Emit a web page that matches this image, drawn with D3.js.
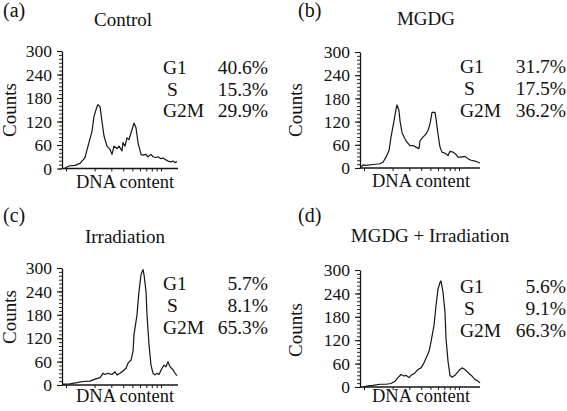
<!DOCTYPE html>
<html>
<head>
<meta charset="utf-8">
<script src="https://cdn.jsdelivr.net/npm/d3@7"></script>
<style>
  html, body { margin: 0; padding: 0; background: #fff; }
  svg { display: block; }
  svg text { font-family: "Liberation Serif", Tinos, "Times New Roman", Times, "Nimbus Roman", "DejaVu Serif", "Noto Serif", serif !important; fill: #111; }
</style>
</head>
<body>
<svg id="chart" width="567" height="411"></svg>
<script>
// ---------------- DATA ----------------
const panelLetters = ["(a)", "(b)", "(c)", "(d)"];
const panelTitles = ["Control", "MGDG", "Irradiation", "MGDG + Irradiation"];
const phaseNames = ["G1", "S", "G2M"];
const phasePercent = [
  [40.6, 15.3, 29.9],
  [31.7, 17.5, 36.2],
  [5.7, 8.1, 65.3],
  [5.6, 9.1, 66.3]
];
const yTickValues = [0, 60, 120, 180, 240, 300];
const xDecadeTicks = [1, 2, 3, 4, 5, 6, 7, 8, 9, 10];
const yLabel = "Counts";
const xLabel = "DNA content";

// histogram traces: channel (DNA content) and counts
const controlChannel = [3, 8, 13, 18, 23, 26, 30, 32, 35, 36, 38, 40, 42, 45, 48, 50, 52, 55, 57, 60, 61, 63, 65, 67, 70, 72, 74, 76, 79, 81, 84, 86, 89, 91, 94, 96, 99, 101, 104, 106, 109, 111, 113, 115];
const controlCounts  = [2, 7, 8, 13, 28, 57, 95, 133, 158, 163, 158, 120, 83, 57, 49, 36, 57, 51, 57, 45, 66, 57, 78, 74, 99, 116, 104, 66, 36, 34, 36, 30, 36, 30, 28, 30, 25, 27, 22, 19, 17, 19, 15, 18];

const mgdgChannel = [1, 3, 6, 13, 20, 23, 26, 29, 31, 34, 36, 37, 39, 40, 42, 45, 47, 50, 53, 56, 59, 60, 63, 66, 68, 70, 72, 75, 76, 78, 80, 82, 86, 88, 90, 93, 96, 98, 101, 105, 108, 111, 115, 118, 120];
const mgdgCounts  = [2, 8, 7, 9, 11, 15, 28, 45, 80, 122, 152, 163, 148, 122, 92, 75, 67, 58, 58, 54, 50, 71, 80, 88, 97, 114, 144, 144, 127, 88, 54, 41, 37, 32, 43, 41, 35, 28, 28, 30, 24, 20, 18, 15, 13];

const irrChannel = [1, 8, 15, 21, 28, 33, 38, 41, 43, 46, 50, 53, 55, 58, 61, 64, 66, 69, 71, 72, 75, 77, 79, 81, 82, 84, 85, 87, 89, 91, 93, 95, 97, 100, 102, 104, 106, 108, 111, 113, 115];
const irrCounts  = [2, 3, 6, 9, 10, 15, 19, 30, 27, 30, 27, 34, 26, 30, 36, 43, 56, 64, 86, 129, 180, 240, 283, 296, 283, 240, 180, 103, 51, 30, 26, 30, 27, 43, 51, 47, 60, 47, 39, 30, 24];

const mgdgIrrChannel = [3, 8, 13, 20, 26, 31, 35, 38, 41, 44, 46, 49, 51, 55, 58, 61, 64, 66, 69, 71, 74, 76, 78, 80, 81, 83, 85, 86, 88, 90, 92, 95, 97, 100, 102, 105, 107, 110, 112, 115, 117, 120];
const mgdgIrrCounts  = [0, 3, 4, 7, 7, 9, 15, 24, 32, 28, 30, 24, 30, 36, 45, 49, 62, 74, 91, 116, 158, 209, 251, 268, 272, 243, 192, 125, 66, 30, 25, 30, 36, 45, 49, 45, 40, 32, 28, 19, 17, 11];

const channels = [controlChannel, mgdgChannel, irrChannel, mgdgIrrChannel];
const counts = [controlCounts, mgdgCounts, irrCounts, mgdgIrrCounts];

// ---------------- LAYOUT ----------------
const layout = [
  { axisX: 62,  y0: 168.5, yTop: 51,  xEnd: 116, letter: [3, 17],    title: [123, 26],  ylab: [16, 110],  xlab: [125, 188], statX: 163, valX: 268, statY: [74, 96, 117] },
  { axisX: 360, y0: 168,   yTop: 52,  xEnd: 120, letter: [298, 17],  title: [426, 25],  ylab: [302, 110], xlab: [421, 187], statX: 460, valX: 566, statY: [73, 95, 117] },
  { axisX: 62,  y0: 385,   yTop: 268, xEnd: 116, letter: [3, 222],   title: [125, 243], ylab: [16, 317],  xlab: [125, 402], statX: 163, valX: 268, statY: [290, 312, 334] },
  { axisX: 360, y0: 387,   yTop: 270, xEnd: 120, letter: [298, 222], title: [430, 242], ylab: [302, 330], xlab: [421, 402], statX: 460, valX: 566, statY: [293, 315, 337] }
];

const svg = d3.select("#chart");
const ink = "#151515";
const fmt = d3.format(".1f");

layout.forEach((L, i) => {
  const g = svg.append("g");
  const x = d3.scaleLinear().domain([0, 120]).range([L.axisX, L.axisX + 120]);
  const y = d3.scaleLinear().domain([0, 300]).range([L.y0, L.yTop]);

  g.append("text").attr("x", L.letter[0]).attr("y", L.letter[1])
    .style("font-size", "20px").text(panelLetters[i]);
  g.append("text").attr("x", L.title[0]).attr("y", L.title[1])
    .attr("text-anchor", "middle").style("font-size", "19px").text(panelTitles[i]);

  const minor = d3.axisLeft(y).tickValues(d3.range(0, 301, 10)).tickSize(3).tickSizeOuter(0).tickFormat("");
  const gm = g.append("g").attr("transform", `translate(${L.axisX},0)`).call(minor);
  gm.select(".domain").attr("stroke", ink).attr("stroke-width", 1.3);
  gm.selectAll(".tick line").attr("stroke", ink).attr("stroke-width", 0.9);

  const major = d3.axisLeft(y).tickValues(yTickValues).tickSize(5).tickPadding(5).tickSizeOuter(0);
  const gy = g.append("g").attr("transform", `translate(${L.axisX},0)`).call(major);
  gy.attr("font-family", null).attr("font-size", null);
  gy.select(".domain").remove();
  gy.selectAll(".tick line").attr("stroke", ink).attr("stroke-width", 1.1);
  gy.selectAll(".tick text").attr("fill", "#111").style("font-size", "17.5px");

  g.append("line").attr("x1", x(0)).attr("x2", x(L.xEnd)).attr("y1", y(0)).attr("y2", y(0))
    .attr("stroke", ink).attr("stroke-width", 1.3);
  const xl = d3.scaleLog().domain([1, 10]).range([x(4), x(99)]);
  const gx = g.append("g").attr("transform", `translate(0,${y(0)})`)
    .call(d3.axisBottom(xl).tickValues(xDecadeTicks).tickSize(3).tickSizeOuter(0).tickFormat(""));
  gx.select(".domain").remove();
  gx.selectAll(".tick line").attr("stroke", ink).attr("stroke-width", 1);

  g.append("text").attr("transform", `translate(${L.ylab[0]},${L.ylab[1]}) rotate(-90)`)
    .attr("text-anchor", "middle").style("font-size", "19px").text(yLabel);
  g.append("text").attr("x", L.xlab[0]).attr("y", L.xlab[1])
    .attr("text-anchor", "middle").style("font-size", "18.5px").text(xLabel);

  const pts = channels[i].map((c, k) => [c, counts[i][k]]);
  g.append("path").datum(pts)
    .attr("fill", "none").attr("stroke", ink).attr("stroke-width", 1.2)
    .attr("stroke-linejoin", "round")
    .attr("d", d3.line().x(d => x(d[0])).y(d => y(d[1])));

  phaseNames.forEach((p, k) => {
    g.append("text").attr("x", L.statX + (p === "S" ? 4 : 0)).attr("y", L.statY[k])
      .style("font-size", "19.5px").text(p);
    g.append("text").attr("x", L.valX).attr("y", L.statY[k]).attr("text-anchor", "end")
      .style("font-size", "19.5px").text(fmt(phasePercent[i][k]) + "%");
  });
});
</script>
</body>
</html>
